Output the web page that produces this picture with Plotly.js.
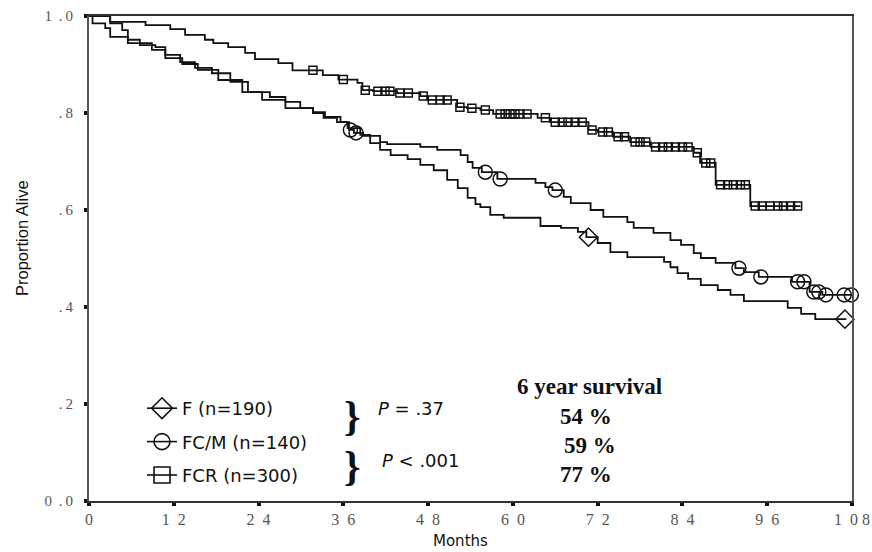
<!DOCTYPE html>
<html>
<head>
<meta charset="utf-8">
<script src="https://cdn.plot.ly/plotly-3.0.1.min.js"></script>
<style>html,body{margin:0;padding:0;background:#fff;}#chart{width:872px;height:552px;}</style>
</head>
<body>
<div id="chart"></div>
<script>
// ---- Data ----
const groupNames = ['F (n=190)', 'FC/M (n=140)', 'FCR (n=300)'];

const fTime = [0, 0.5, 2.3, 3.0, 5.5, 8.9, 10.8, 13.2, 15.4, 18.3, 21.7, 24.5, 27.8, 31.7, 33.2, 35.1, 36.6, 38.4, 39.8, 41.2, 42.7, 45.1, 46.9, 48.8, 50.7, 52.2, 53.6, 54.7, 55.4, 56.8, 58.7, 63.9, 66.8, 69.2, 70.4, 72.0, 73.8, 76.2, 81.4, 82.3, 83.3, 84.8, 86.6, 89.0, 90.8, 92.7, 98.9, 100.8, 102.8, 107.2];
const fSurv = [1.0, 0.985, 0.975, 0.957, 0.944, 0.930, 0.913, 0.901, 0.889, 0.868, 0.843, 0.827, 0.810, 0.800, 0.790, 0.781, 0.769, 0.755, 0.738, 0.724, 0.713, 0.705, 0.693, 0.682, 0.662, 0.645, 0.625, 0.612, 0.606, 0.590, 0.584, 0.567, 0.563, 0.555, 0.544, 0.532, 0.513, 0.503, 0.493, 0.482, 0.470, 0.458, 0.445, 0.435, 0.425, 0.412, 0.398, 0.386, 0.375, 0.375];
const fCensTime = [70.7, 107.0];
const fCensSurv = [0.544, 0.375];

const cTime = [0, 3.0, 4.7, 5.5, 7.2, 9.4, 10.8, 12.9, 15.0, 17.4, 20.0, 22.5, 25.6, 27.8, 29.9, 31.7, 33.4, 35.6, 36.8, 37.5, 38.8, 41.2, 42.2, 46.9, 49.3, 52.6, 53.6, 54.3, 55.6, 57.8, 63.2, 64.6, 65.6, 67.2, 68.2, 71.0, 72.8, 76.2, 77.1, 79.9, 82.3, 83.8, 85.6, 86.6, 88.7, 91.5, 92.7, 94.8, 99.5, 102.0, 103.8, 108.0];
const cSurv = [1.0, 0.985, 0.971, 0.951, 0.940, 0.936, 0.920, 0.905, 0.893, 0.882, 0.864, 0.843, 0.833, 0.823, 0.810, 0.802, 0.792, 0.781, 0.765, 0.759, 0.753, 0.740, 0.736, 0.730, 0.724, 0.713, 0.699, 0.687, 0.678, 0.664, 0.656, 0.647, 0.641, 0.627, 0.614, 0.600, 0.586, 0.575, 0.563, 0.553, 0.538, 0.528, 0.511, 0.501, 0.491, 0.480, 0.472, 0.462, 0.452, 0.431, 0.425, 0.425];
const cCensTime = [37.0, 37.8, 56.1, 58.2, 66.0, 92.0, 95.1, 100.3, 101.2, 102.6, 103.3, 104.3, 106.9, 107.9];
const cCensSurv = [0.765, 0.759, 0.678, 0.664, 0.641, 0.480, 0.462, 0.452, 0.452, 0.431, 0.431, 0.425, 0.425, 0.425];

const rTime = [0, 3.0, 8.0, 11.5, 13.6, 16.4, 17.6, 19.7, 22.1, 23.5, 26.8, 28.8, 33.1, 35.3, 38.0, 38.7, 40.2, 43.6, 46.9, 47.9, 52.1, 53.5, 55.4, 57.2, 63.5, 65.3, 70.7, 72.0, 74.2, 76.6, 79.5, 85.6, 86.5, 88.7, 93.6, 100.7];
const rSurv = [1.0, 0.988, 0.981, 0.973, 0.961, 0.951, 0.944, 0.936, 0.924, 0.911, 0.903, 0.888, 0.878, 0.869, 0.862, 0.847, 0.845, 0.841, 0.835, 0.827, 0.812, 0.810, 0.806, 0.798, 0.790, 0.781, 0.765, 0.761, 0.751, 0.740, 0.730, 0.718, 0.697, 0.652, 0.608, 0.608];
const rCensTime = [31.7, 36.0, 39.1, 40.9, 41.9, 42.6, 44.0, 45.2, 47.3, 48.6, 49.7, 50.7, 52.5, 54.2, 56.1, 58.2, 58.9, 59.6, 60.3, 61.0, 62.0, 64.6, 66.0, 67.0, 67.8, 68.8, 69.8, 71.2, 72.7, 73.5, 74.9, 75.8, 77.3, 78.0, 78.8, 80.2, 81.2, 82.0, 83.0, 84.0, 84.8, 86.1, 87.3, 88.0, 89.4, 90.4, 91.2, 92.2, 92.9, 94.3, 95.3, 96.4, 97.5, 98.3, 99.3, 100.3];
const rCensSurv = [0.888, 0.869, 0.847, 0.845, 0.845, 0.845, 0.841, 0.841, 0.835, 0.827, 0.827, 0.827, 0.812, 0.810, 0.806, 0.798, 0.798, 0.798, 0.798, 0.798, 0.798, 0.790, 0.781, 0.781, 0.781, 0.781, 0.781, 0.765, 0.761, 0.761, 0.751, 0.751, 0.740, 0.740, 0.740, 0.730, 0.730, 0.730, 0.730, 0.730, 0.730, 0.718, 0.697, 0.697, 0.652, 0.652, 0.652, 0.652, 0.652, 0.608, 0.608, 0.608, 0.608, 0.608, 0.608, 0.608];

const xTickVals = [0, 12, 24, 36, 48, 60, 72, 84, 96, 108];
const xTickText = ['0', '1\u00a0\u00a02', '2\u00a0\u00a04', '3\u00a0\u00a06', '4\u00a0\u00a08', '6\u00a0\u00a00', '7\u00a0\u00a02', '8\u00a0\u00a04', '9\u00a0\u00a06', '1\u00a0\u00a00\u00a08'];
const yTickVals = [0, 0.2, 0.4, 0.6, 0.8, 1.0];
const yTickText = ['0\u00a0\u2009.\u20090', '.\u20092', '.\u20094', '.\u20096', '.\u20098', '1\u00a0\u2009.\u20090'];

const survHeader = '6 year survival';
const survPct = ['54 %', '59 %', '77 %'];
const pValues = ['<i>P</i> = .37', '<i>P</i> &lt; .001'];

// ---- styles ----
const INK = '#111';
const symbols = ['diamond-open', 'circle-open', 'square-open'];
const sizes = [14, 14, 8];
const SANS = 'DejaVu Sans, sans-serif';
const SANS2 = 'Liberation Sans, Arial, sans-serif';
const SERIF = 'Liberation Serif, Times New Roman, serif';

function stepTrace(x, y) {
  return {x: x, y: y, type: 'scatter', mode: 'lines', line: {shape: 'hv', color: INK, width: 1.8},
          showlegend: false, hoverinfo: 'skip'};
}
function censTrace(x, y, i) {
  return {x: x, y: y, type: 'scatter', mode: 'markers', cliponaxis: false,
          marker: {symbol: symbols[i], size: sizes[i], color: INK, line: {width: 1.5, color: INK}},
          showlegend: false, hoverinfo: 'skip'};
}
function legendTrace(i) {
  return {x: [null], y: [null], type: 'scatter', mode: 'lines+markers', name: groupNames[i],
          legendgroup: 'g' + i, line: {color: INK, width: 1.6},
          marker: {symbol: symbols[i], size: 16, color: INK, line: {width: 1.6, color: INK}}};
}

const data = [
  stepTrace(fTime, fSurv), stepTrace(cTime, cSurv), stepTrace(rTime, rSurv),
  censTrace(fCensTime, fCensSurv, 0), censTrace(cCensTime, cCensSurv, 1), censTrace(rCensTime, rCensSurv, 2),
  legendTrace(0), legendTrace(1), legendTrace(2)
];

// pixel -> paper helpers (plot area: x 89..852, y 16..501)
const PX = p => (p - 89) / 763;
const PY = p => (501 - p) / 485;

function ann(text, px, py, font, extra) {
  return Object.assign({text: text, xref: 'paper', yref: 'paper', x: PX(px), y: PY(py),
    xanchor: 'center', yanchor: 'middle', showarrow: false, font: font}, extra || {});
}

const annotations = [
  ann('<b>}</b>', 352, 416, {family: SERIF, size: 42, color: INK}),
  ann('<b>}</b>', 352, 466, {family: SERIF, size: 42, color: INK}),
  ann(pValues[0], 411, 408, {family: SANS, size: 18, color: INK}),
  ann(pValues[1], 420, 460, {family: SANS, size: 18, color: INK}),
  ann('<b>' + survHeader + '</b>', 589, 386, {family: SERIF, size: 23, color: INK}),
  ann('<b>' + survPct[0] + '</b>', 586, 416, {family: SERIF, size: 23, color: INK}),
  ann('<b>' + survPct[1] + '</b>', 590, 445, {family: SERIF, size: 23, color: INK}),
  ann('<b>' + survPct[2] + '</b>', 586, 474, {family: SERIF, size: 23, color: INK}),
  ann('Months', 460, 541, {family: SANS, size: 15, color: INK}),
  ann('Proportion Alive', 22, 238, {family: SANS2, size: 16.5, color: INK}, {textangle: -90})
];

const layout = {
  width: 872, height: 552,
  margin: {l: 89, r: 20, t: 16, b: 51, pad: 0},
  paper_bgcolor: '#fff', plot_bgcolor: '#fff',
  showlegend: true,
  legend: {x: PX(142), xanchor: 'left', y: PY(390), yanchor: 'top',
           font: {family: SANS, size: 18, color: INK}, bgcolor: 'rgba(0,0,0,0)',
           tracegroupgap: 7, itemsizing: 'trace', borderwidth: 0},
  xaxis: {range: [0, 108], tickvals: xTickVals, ticktext: xTickText, showgrid: false, zeroline: false,
          showline: true, linecolor: '#333', linewidth: 2, mirror: true,
          ticks: 'outside', ticklen: 3, tickwidth: 4, tickcolor: INK,
          tickfont: {family: SERIF, size: 16, color: '#555'}, fixedrange: true},
  yaxis: {range: [0, 1.0], tickvals: yTickVals, ticktext: yTickText, showgrid: false, zeroline: false,
          showline: true, linecolor: '#555', linewidth: 2, mirror: true,
          ticks: 'outside', ticklen: 3, tickwidth: 4, tickcolor: INK, ticklabelstandoff: 8,
          tickfont: {family: SERIF, size: 15, color: '#555'}, fixedrange: true},
  annotations: annotations
};

Plotly.newPlot('chart', data, layout, {staticPlot: true, displayModeBar: false});
</script>
</body>
</html>
